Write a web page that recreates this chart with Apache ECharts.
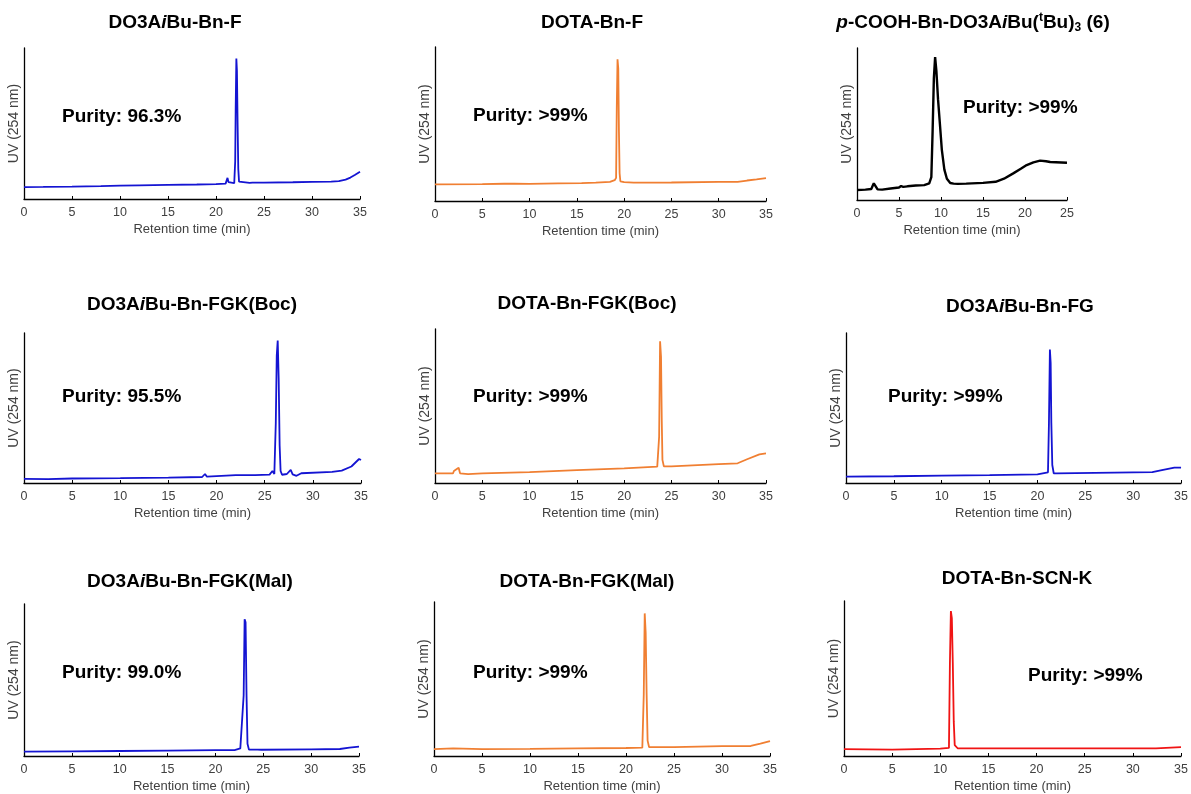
<!DOCTYPE html>
<html>
<head>
<meta charset="utf-8">
<script src="https://cdn.jsdelivr.net/npm/echarts@6/dist/echarts.min.js"></script>
<style>html,body{margin:0;padding:0;background:#fff;}#c{width:1191px;height:794px;}</style>
</head>
<body>
<div id="c"></div>
<script>
// ---- data (retention time min, relative UV absorbance 0-100) ----
const titles = [
  'DO3A{bi|i}Bu-Bn-F',
  'DOTA-Bn-F',
  '{bi|p}-COOH-Bn-DO3A{bi|i}Bu({sup|t}Bu){sub|3} (6)',
  'DO3A{bi|i}Bu-Bn-FGK(Boc)',
  'DOTA-Bn-FGK(Boc)',
  'DO3A{bi|i}Bu-Bn-FG',
  'DO3A{bi|i}Bu-Bn-FGK(Mal)',
  'DOTA-Bn-FGK(Mal)',
  'DOTA-Bn-SCN-K'
];
const purities = ['Purity: 96.3%','Purity: >99%','Purity: >99%','Purity: 95.5%','Purity: >99%','Purity: >99%','Purity: 99.0%','Purity: >99%','Purity: >99%'];
const xMaxes = [35,35,25,35,35,35,35,35,35];
const xTickStep = 5;
const yAxisName = 'UV (254 nm)';
const xAxisName = 'Retention time (min)';
const traceColors = ['#1414d2','#f07f32','#000000','#1414d2','#f07f32','#1414d2','#1414d2','#f07f32','#f01414'];

const trace1 = [[0,7.9],[2,8.0],[5,8.2],[8,8.5],[10,8.8],[12,9.0],[15,9.3],[18,9.6],[20,9.9],[21.0,10.2],[21.1,11.5],[21.2,14],[21.3,11.2],[21.4,10.4],[21.9,10.5],[22.0,25],[22.05,60],[22.12,93],[22.18,85],[22.25,50],[22.32,20],[22.4,11.5],[22.6,10.6],[23.5,10.7],[23.65,12],[23.8,10.9],[25,10.9],[28,11.1],[30,11.3],[32,11.5],[32.8,11.8],[33.5,12.8],[34,14.2],[34.5,16],[35,18]];
const trace2 = [[0,10.8],[5,10.9],[7.3,11.2],[8.4,11.3],[10,11.1],[13,11.5],[15.5,11.6],[17,11.9],[18.5,12.4],[19.0,13.5],[19.15,15],[19.22,60],[19.3,92],[19.38,86],[19.45,45],[19.52,18],[19.6,12.8],[20,12.3],[21,11.9],[25,12],[30,12.4],[32,12.4],[33,13.3],[34,14],[35,14.8]];
const trace3 = [[0,6.6],[1,6.8],[1.7,7.2],[2.0,11],[2.2,10],[2.45,7],[3,6.8],[4,7.6],[5,8.2],[5.25,9.2],[5.5,8.6],[6,9],[7,9.5],[8,9.8],[8.6,11],[8.85,15],[9.0,45],[9.15,80],[9.3,94],[9.45,85],[9.65,66],[9.87,50],[10.1,33],[10.4,20],[10.7,14],[11.1,11.2],[11.5,10.8],[12,10.6],[13,10.8],[15,11.3],[16.5,12],[17.5,14],[18.6,17.5],[19.5,20.5],[20.2,23],[21,24.8],[21.8,25.9],[22.5,25.5],[23,25],[25,24.5]];
const trace4 = [[0,2.7],[2.5,2.6],[5,3],[10,3.2],[15,3.6],[18.5,4],[18.8,6],[19.0,4.2],[20,4.6],[22,5.3],[24,5.3],[25.5,5.6],[25.8,8],[26.0,6],[26.15,40],[26.25,85],[26.35,95],[26.45,70],[26.55,25],[26.65,8],[26.8,5.5],[27.3,6],[27.5,7],[27.7,8.7],[27.9,5.8],[28.3,4.8],[28.8,6.5],[29,6.9],[32,7.4],[33,8.3],[34,11],[34.8,16],[35,15.3]];
const trace5 = [[0,6.3],[1.9,6.2],[2.0,7.8],[2.15,6.8],[2.5,9.9],[2.65,6.3],[3.5,5.8],[5,6.2],[10,7.1],[15,8.3],[20,9.5],[23.5,10.6],[23.7,30],[23.8,92],[23.9,82],[23.98,40],[24.05,15],[24.2,10.8],[25,10.8],[30,12.3],[32,12.8],[33,15.4],[34.3,18.6],[35,19.3]];
const trace6 = [[0,4.2],[5,4.5],[10,4.9],[15,5.2],[20,5.8],[21.1,7.1],[21.2,40],[21.3,89],[21.38,80],[21.45,40],[21.55,12],[21.7,6.5],[22,6.4],[26,6.8],[30,7.1],[32,7.2],[33,8.6],[34.3,10.2],[35,10.2]];
const trace7 = [[0,2.9],[5,3.1],[10,3.3],[15,3.5],[20,3.8],[22,3.9],[22.6,5],[22.8,4],[22.95,40],[23.05,90],[23.15,88],[23.25,40],[23.35,8],[23.5,4.2],[24.4,4.2],[24.6,4.8],[24.8,4.1],[30,4.4],[33,4.6],[34,5.5],[35,6.2]];
const trace8 = [[0,4.5],[2.0,5.0],[2.2,4.6],[5,4.5],[10,4.6],[15,4.9],[20,5.2],[21.7,5.4],[21.85,40],[21.95,92.6],[22.05,80],[22.15,40],[22.25,10],[22.4,5.8],[25,5.8],[30,6.4],[33,6.5],[34,8],[35,9.7]];
const trace9 = [[0,4.5],[5,4.1],[10,4.7],[10.9,5.2],[11.0,60],[11.1,93.5],[11.2,89],[11.3,60],[11.4,22],[11.5,7],[11.8,5],[15,4.9],[20,4.9],[32.4,4.9],[32.6,5.5],[35,5.7]];
const traces = [trace1,trace2,trace3,trace4,trace5,trace6,trace7,trace8,trace9];

// ---- layout (pixels) ----
const grids = [
  {left:24, top:48, width:336, height:151},
  {left:435,top:47, width:331, height:154},
  {left:857,top:48, width:210, height:152},
  {left:24, top:333,width:337, height:150},
  {left:435,top:329,width:331, height:154},
  {left:846,top:333,width:336, height:150},
  {left:24, top:604,width:335, height:152},
  {left:434,top:602,width:336, height:154},
  {left:844,top:601,width:337, height:155}
];
const titlePos = [[175,23],[592,23],[973,23],[192,305],[587,304],[1020,307],[190,582],[587,582],[1017,579]];
const purityPos = [[62,117],[473,116],[963,108],[62,397],[473,397],[888,397],[62,673],[473,673],[1028,676]];
const lineWidths = [1.8,1.8,2.4,1.8,1.8,1.8,1.8,1.8,1.8];

const FONT = '"Liberation Sans", Arial, sans-serif';
const chart = echarts.init(document.getElementById('c'), null, {renderer:'canvas'});

const xAxes = [], yAxes = [], series = [], graphics = [];
const rich = {
  bi:{fontStyle:'italic', fontWeight:'bold', fontSize:19, fontFamily:FONT, lineHeight:22, fill:'#000'},
  sup:{fontWeight:'bold', fontSize:12, fontFamily:FONT, lineHeight:12, verticalAlign:'top', fill:'#000'},
  sub:{fontWeight:'bold', fontSize:12, fontFamily:FONT, lineHeight:12, verticalAlign:'bottom', fill:'#000'}
};
for (let i = 0; i < 9; i++) {
  xAxes.push({
    type:'value', gridIndex:i, min:0, max:xMaxes[i], interval:xTickStep,
    splitLine:{show:false},
    axisLine:{show:true, onZero:false, lineStyle:{color:'#000', width:1.3}},
    axisTick:{show:true, inside:true, length:3, lineStyle:{color:'#000', width:1}},
    axisLabel:{fontSize:12.5, color:'#404040', fontFamily:FONT, margin:7},
    name:xAxisName, nameLocation:'middle', nameGap:24,
    nameTextStyle:{fontSize:13, color:'#404040', fontFamily:FONT}
  });
  yAxes.push({
    type:'value', gridIndex:i, min:0, max:100,
    splitLine:{show:false},
    axisLine:{show:true, onZero:false, lineStyle:{color:'#000', width:1.3}},
    axisTick:{show:false}, axisLabel:{show:false},
    name:yAxisName, nameLocation:'middle', nameGap:3, nameRotate:90,
    nameTextStyle:{fontSize:14, color:'#404040', fontFamily:FONT}
  });
  series.push({
    type:'line', xAxisIndex:i, yAxisIndex:i, data:traces[i],
    showSymbol:false, symbol:'none', smooth:false,
    lineStyle:{color:traceColors[i], width:lineWidths[i]},
    itemStyle:{color:traceColors[i]}
  });
  graphics.push({
    type:'text', x:titlePos[i][0], y:titlePos[i][1],
    style:{text:titles[i], fontSize:19, fontWeight:'bold', fontFamily:FONT, lineHeight:22,
      fill:'#000', textAlign:'center', textVerticalAlign:'middle', align:'center', verticalAlign:'middle', rich:rich}
  });
  graphics.push({
    type:'text', x:purityPos[i][0], y:purityPos[i][1],
    style:{text:purities[i], fontSize:19, fontWeight:'bold', fontFamily:FONT,
      fill:'#000', textAlign:'left', textVerticalAlign:'middle', align:'left', verticalAlign:'middle'}
  });
}

chart.setOption({
  animation:false,
  backgroundColor:'#fff',
  grid:grids,
  xAxis:xAxes,
  yAxis:yAxes,
  series:series,
  graphic:graphics
});
</script>
</body>
</html>
